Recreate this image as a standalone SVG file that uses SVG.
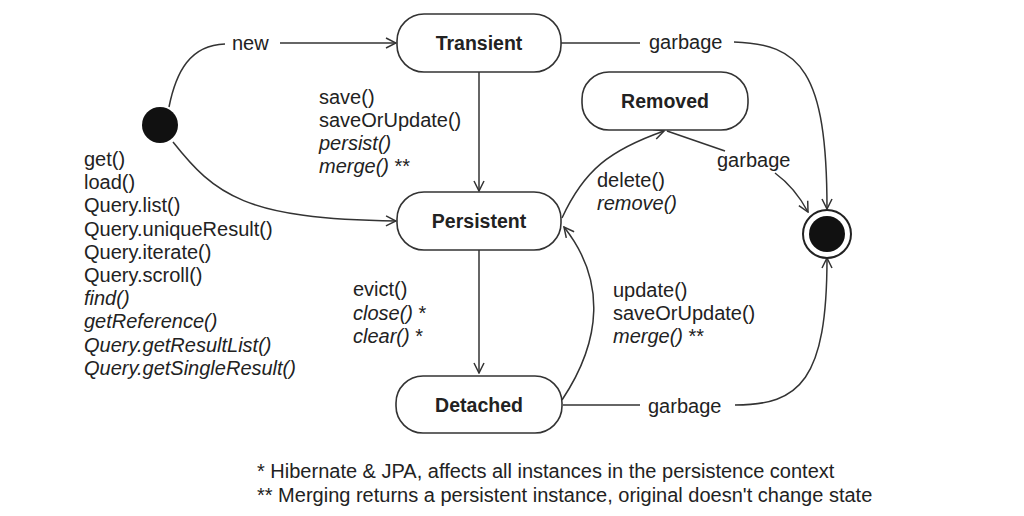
<svg xmlns="http://www.w3.org/2000/svg" width="1024" height="516" viewBox="0 0 1024 516">
<style>
.node rect{fill:#fff;stroke:#333;stroke-width:1.6}
.nl{font-family:"Liberation Sans",Arial,sans-serif;font-weight:bold;font-size:19.5px;fill:#222;text-anchor:middle}
.t{font-family:"Liberation Sans",Arial,sans-serif;font-size:20px;fill:#222}
.i{font-style:italic}
.edge{fill:none;stroke:#333;stroke-width:1.5}
.arr{marker-end:url(#ah)}
</style>
<defs>
<marker id="ah" viewBox="0 0 12 12" refX="11" refY="6" markerWidth="12" markerHeight="12" markerUnits="userSpaceOnUse" orient="auto">
<path d="M1,1 L11,6 L1,11" fill="none" stroke="#333" stroke-width="1.5"/>
</marker>
</defs>
<rect width="1024" height="516" fill="#fff"/>

<g id="connectors">
<path class="edge" d="M169,107 C176,72 190,45 225,44"/>
<path class="edge arr" d="M280,43 L396,43"/>
<path class="edge arr" d="M173,142 C215,195 245,219 396,221"/>
<path class="edge arr" d="M479,72 L479,191"/>
<path class="edge" d="M561,43 L640,43"/>
<path class="edge arr" d="M734,42 C800,44 827,70 827,209"/>
<path class="edge" d="M667,131 L725,151"/>
<path class="edge arr" d="M775,173 C790,184 800,197 808,212"/>
<path class="edge arr" d="M562,218 C584,170 610,150 664,131"/>
<path class="edge arr" d="M479,250 L479,373"/>
<path class="edge arr" d="M562,400 C602,340 606,280 564,227"/>
<path class="edge" d="M563,405 L640,405"/>
<path class="edge arr" d="M735,405 C800,405 827,380 827,258"/>
</g>

<g id="initial"><circle cx="160" cy="125" r="18" fill="#111"/></g>
<g id="final"><circle cx="827" cy="234" r="24" fill="#fff" stroke="#222" stroke-width="2"/><circle cx="827" cy="234" r="18" fill="#111"/></g>

<g id="transient" class="node"><rect x="397" y="14" width="164" height="58" rx="27"/><text class="nl" x="479" y="50">Transient</text></g>
<g id="persistent" class="node"><rect x="397" y="192" width="164" height="58" rx="27"/><text class="nl" x="479" y="228">Persistent</text></g>
<g id="removed" class="node"><rect x="582" y="72" width="166" height="58" rx="27"/><text class="nl" x="665" y="108">Removed</text></g>
<g id="detached" class="node"><rect x="396" y="376" width="166" height="57" rx="27"/><text class="nl" x="479" y="412">Detached</text></g>

<g id="labels">
<text class="t" x="232" y="50">new</text>
<text class="t" x="649" y="49">garbage</text>
<text class="t" x="717" y="167">garbage</text>
<text class="t" x="648" y="413">garbage</text>
<text class="t" x="319" y="104">save()</text>
<text class="t" x="319" y="127">saveOrUpdate()</text>
<text class="t i" x="319" y="150">persist()</text>
<text class="t" x="319" y="173"><tspan class="i">merge()</tspan> **</text>
<text class="t" x="597" y="187">delete()</text>
<text class="t i" x="597" y="210">remove()</text>
<text class="t" x="353" y="296">evict()</text>
<text class="t" x="353" y="320"><tspan class="i">close()</tspan> *</text>
<text class="t" x="353" y="343"><tspan class="i">clear()</tspan> *</text>
<text class="t" x="613" y="297">update()</text>
<text class="t" x="613" y="320">saveOrUpdate()</text>
<text class="t" x="613" y="343"><tspan class="i">merge()</tspan> **</text>
<text class="t" x="84" y="166">get()</text>
<text class="t" x="84" y="189">load()</text>
<text class="t" x="84" y="212">Query.list()</text>
<text class="t" x="84" y="236">Query.uniqueResult()</text>
<text class="t" x="84" y="259">Query.iterate()</text>
<text class="t" x="84" y="282">Query.scroll()</text>
<text class="t i" x="84" y="305">find()</text>
<text class="t i" x="84" y="328">getReference()</text>
<text class="t i" x="84" y="352">Query.getResultList()</text>
<text class="t i" x="84" y="375">Query.getSingleResult()</text>
<text class="t" x="257" y="478">* Hibernate &amp; JPA, affects all instances in the persistence context</text>
<text class="t" x="257" y="502">** Merging returns a persistent instance, original doesn't change state</text>
</g>
</svg>
